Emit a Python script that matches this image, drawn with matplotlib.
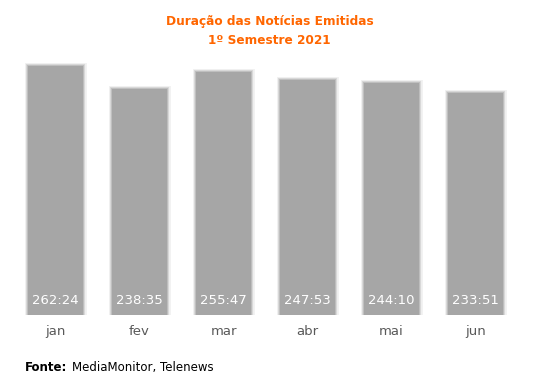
import matplotlib
matplotlib.use("Agg")
import matplotlib.pyplot as plt
import matplotlib.patheffects as pe

months = ["jan", "fev", "mar", "abr", "mai", "jun"]
durations = ["262:24", "238:35", "255:47", "247:53", "244:10", "233:51"]

hours = [int(d.split(":")[0]) + int(d.split(":")[1]) / 60 for d in durations]

fig = plt.figure(figsize=(5.36, 3.89), dpi=100)
ax = fig.add_axes([0.0252, 0.1902, 0.9403, 0.6555])

soft = [
    pe.Stroke(linewidth=5, foreground="#a6a6a6", alpha=0.15),
    pe.Stroke(linewidth=3, foreground="#a6a6a6", alpha=0.3),
    pe.Stroke(linewidth=1.5, foreground="#a6a6a6", alpha=0.5),
    pe.Normal(),
]

x = range(len(months))
bars = ax.bar(x, hours, width=0.66, color="#a6a6a6", linewidth=0)
for b in bars:
    b.set_path_effects(soft)

for i, d in enumerate(durations):
    ax.text(i, 8, d, ha="center", va="bottom", color="white",
            fontsize=9.5, family="DejaVu Sans")

ax.set_xlim(-0.5, 5.5)
ax.set_ylim(0, 268.7)
ax.set_xticks(list(x))
ax.set_xticklabels(months, fontsize=9.5, color="#595959")
ax.tick_params(axis="x", length=0, pad=7)
ax.set_yticks([])
for s in ax.spines.values():
    s.set_visible(False)

fig.text(0.503, 1 - 22 / 389, "Duração das Notícias Emitidas",
         ha="center", va="center", color="#ff6600", fontsize=8.7,
         fontweight="bold")
fig.text(0.503, 1 - 41 / 389, "1º Semestre 2021",
         ha="center", va="center", color="#ff6600", fontsize=8.7,
         fontweight="bold")

# footer: bold label followed by the source
fonte = fig.text(0.047, 1 - 371 / 389, "Fonte:", ha="left", va="baseline",
                 fontsize=8.5, fontweight="bold", color="black")
fig.canvas.draw()
bb = fonte.get_window_extent().transformed(fig.transFigure.inverted())
fig.text(bb.x1 + 4 / 536, 1 - 371 / 389, "MediaMonitor, Telenews",
         ha="left", va="baseline", fontsize=8.5, color="black")

fig.savefig("out.png", dpi=100)
